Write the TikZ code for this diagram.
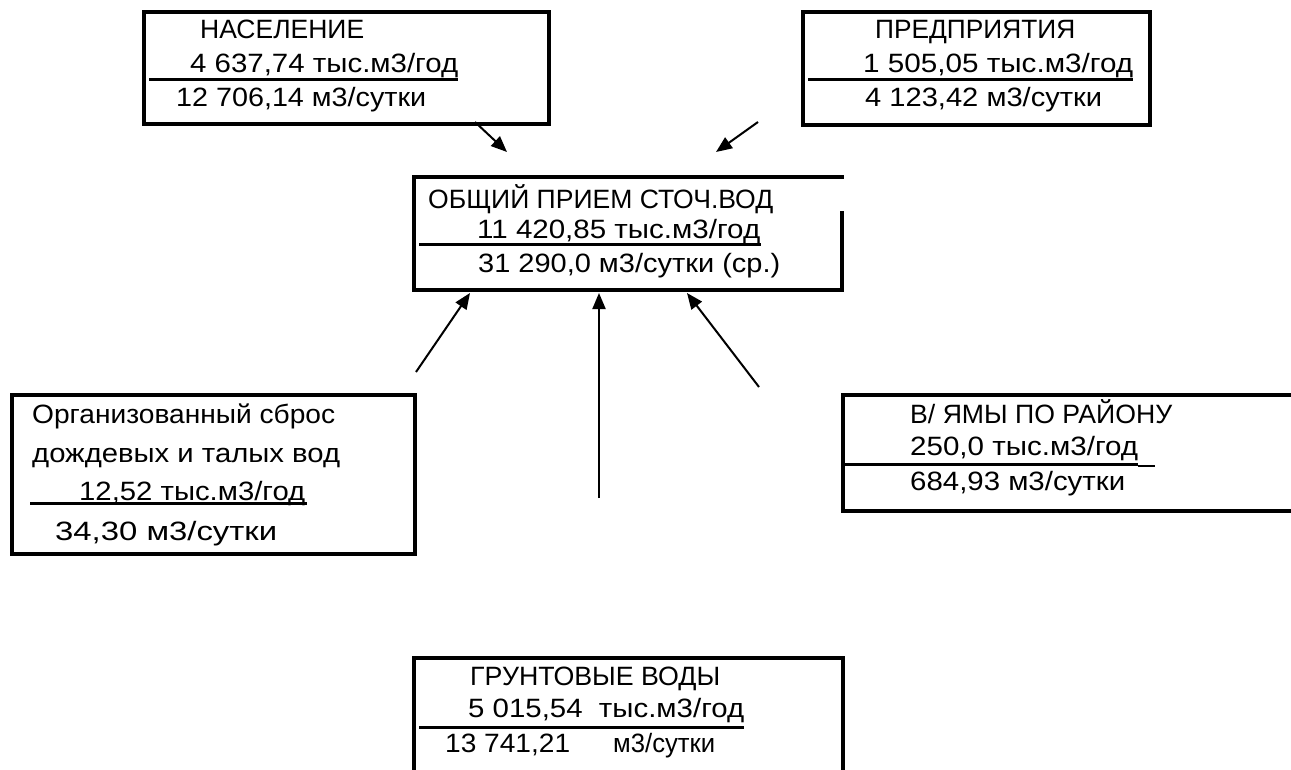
\documentclass[tikz,border=0pt]{standalone}
\usepackage{fontspec}
\usepackage{graphicx}
\setmainfont{Liberation Sans}
\usetikzlibrary{arrows.meta}
\newcommand{\fitw}[2]{\resizebox{#1pt}{\height}{#2}}
\tikzset{
  txt/.style={anchor=base west, inner sep=0pt, font=\fontsize{26.5}{30}\selectfont},
  frame/.style={line width=3.5pt, line cap=rect},
  sep/.style={line width=3pt},
  arr/.style={line width=2pt, -{Triangle[length=16pt,width=13pt]}}
}
\begin{document}
\begin{tikzpicture}[x=1pt,y=-1pt]
\useasboundingbox (0,0) rectangle (1291,769);
% Box A
\draw[frame] (144,12) rectangle (549,124);
\draw[sep] (149,79) -- (458,79);
\node[txt] (a1) at (200,38) {\fitw{164}{НАСЕЛЕНИЕ}};
\node[txt] (a2) at (190,72.7) {\fitw{268}{4 637,74 тыс.м3/год}};
\node[txt] (a3) at (176,106.7) {\fitw{250}{12 706,14 м3/сутки}};
% Box B
\draw[frame] (1150,12) -- (803,12) -- (803,125) -- (1150,125) -- cycle;
\draw[sep] (808,79) -- (1133,79);
\node[txt] (b1) at (875,38) {\fitw{200}{ПРЕДПРИЯТИЯ}};
\node[txt] (b2) at (863,72.7) {\fitw{270}{1 505,05 тыс.м3/год}};
\node[txt] (b3) at (865,106.7) {\fitw{237}{4 123,42 м3/сутки}};
% Box C
\draw[frame] (842,177) -- (414,177) -- (414,290) -- (842,290) -- (842,213);
\draw[sep] (419,244) -- (761,244);
\node[txt] (c1) at (428,208) {\fitw{345}{ОБЩИЙ ПРИЕМ СТОЧ.ВОД}};
\node[txt] (c2) at (477,238) {\fitw{283}{11 420,85 тыс.м3/год}};
\node[txt] (c3) at (478,272) {\fitw{302}{31 290,0 м3/сутки (ср.)}};
% Box D
\draw[frame] (12,395) rectangle (415,554);
\draw[sep] (30,503) -- (307,503);
\node[txt] (d1) at (32,423) {\fitw{303}{Организованный сброс}};
\node[txt] (d2) at (32,462) {\fitw{308}{дождевых и талых вод}};
\node[txt] (d3) at (79,500) {\fitw{226}{12,52 тыс.м3/год}};
\node[txt] (d4) at (55,540) {\fitw{222}{34,30 м3/сутки}};
% Box E
\draw[frame] (1295,395) -- (843,395) -- (843,511) -- (1295,511);
\draw[sep] (845,464) -- (1138,464);
\draw[line width=1.5pt] (1138,466) -- (1155,466);
\node[txt] (e1) at (910,423) {\fitw{262}{В/ ЯМЫ ПО РАЙОНУ}};
\node[txt] (e2) at (910,455) {\fitw{228}{250,0 тыс.м3/год}};
\node[txt] (e3) at (910,490) {\fitw{215}{684,93 м3/сутки}};
% Box F
\draw[frame] (414,775) -- (414,658) -- (843,658) -- (843,775);
\draw[sep] (419,727) -- (744,727);
\node[txt] (f1) at (470,685) {\fitw{250}{ГРУНТОВЫЕ ВОДЫ}};
\node[txt] (f2) at (468,717) {\fitw{276}{5 015,54\ \ тыс.м3/год}};
\node[txt] (f3) at (445,752) {\fitw{125}{13 741,21}};
\node[txt] (f4) at (613,752) {\fitw{102}{м3/сутки}};
% arrows
\coordinate (pA1) at (475,122); \coordinate (pA2) at (507,152);
\coordinate (pB1) at (758,122); \coordinate (pB2) at (716,152);
\coordinate (pD1) at (416,372); \coordinate (pD2) at (470,293);
\coordinate (pF1) at (599,498); \coordinate (pF2) at (599,293);
\coordinate (pE1) at (759,387); \coordinate (pE2) at (687,293);
\draw[arr] (pA1) -- (pA2);
\draw[arr] (pB1) -- (pB2);
\draw[arr] (pD1) -- (pD2);
\draw[arr] (pF1) -- (pF2);
\draw[arr] (pE1) -- (pE2);
\end{tikzpicture}
\end{document}
